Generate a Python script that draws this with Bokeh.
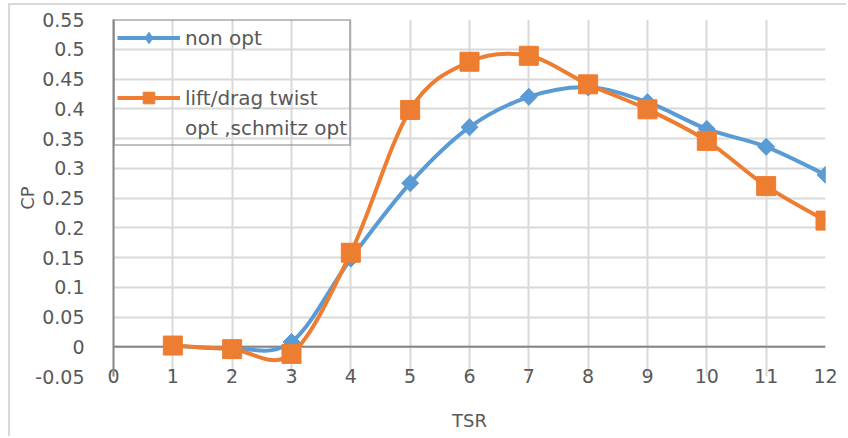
import numpy as np
from bokeh.plotting import figure
from bokeh.models import (Legend, LegendItem, FixedTicker, NumeralTickFormatter,
                          Span, Range1d, ColumnDataSource)
from bokeh.embed import file_html
from bokeh.resources import INLINE

# ---- data ----
tsr = [1, 2, 3, 4, 5, 6, 7, 8, 9, 10, 11, 12]
cp_non_opt = [0.002, -0.003, 0.008, 0.148, 0.275, 0.369, 0.420, 0.436, 0.411, 0.366, 0.336, 0.289]
cp_opt = [0.002, -0.004, -0.012, 0.158, 0.398, 0.479, 0.489, 0.441, 0.399, 0.346, 0.270, 0.212]
x_ticks = [0, 1, 2, 3, 4, 5, 6, 7, 8, 9, 10, 11, 12]
y_ticks = [-0.05, 0.0, 0.05, 0.1, 0.15, 0.2, 0.25, 0.3, 0.35, 0.4, 0.45, 0.5, 0.55]
series_names = ["non opt", "lift/drag twist", "opt ,schmitz opt"]

BLUE = "#5b9bd5"
ORANGE = "#ed7d31"
TEXT = "#595959"
GRID = "#d9d9d9"
AXIS = "#868686"
FONT = "DejaVu Sans"


def smooth_segments(xs, ys):
    """Cubic Bezier segments (Catmull-Rom style) through the data points."""
    x = np.asarray(xs, float)
    y = np.asarray(ys, float)
    n = len(x)
    xp = np.concatenate([[x[0]], x, [x[-1]]])
    yp = np.concatenate([[y[0]], y, [y[-1]]])
    d = dict(x0=[], y0=[], x1=[], y1=[], cx0=[], cy0=[], cx1=[], cy1=[])
    for i in range(n - 1):
        j = i + 1
        d["x0"].append(x[i]); d["y0"].append(y[i])
        d["x1"].append(x[i + 1]); d["y1"].append(y[i + 1])
        d["cx0"].append(x[i] + (xp[j + 1] - xp[j - 1]) / 6)
        d["cy0"].append(y[i] + (yp[j + 1] - yp[j - 1]) / 6)
        d["cx1"].append(x[i + 1] - (xp[j + 2] - xp[j]) / 6)
        d["cy1"].append(y[i + 1] - (yp[j + 2] - yp[j]) / 6)
    return ColumnDataSource(d)


p = figure(width=838, height=433, output_backend="svg", toolbar_location=None,
           x_range=Range1d(0, 12), y_range=Range1d(-0.05, 0.55),
           min_border_left=103, min_border_right=23, min_border_top=14,
           min_border_bottom=62, background_fill_color="white",
           border_fill_color="white", outline_line_color=None)
p.margin = (3, 0, 0, 8)
p.styles = {"border-top": "2px solid #d9d9d9", "border-left": "2px solid #d9d9d9"}

# grid
p.xgrid.ticker = FixedTicker(ticks=x_ticks)
p.ygrid.ticker = FixedTicker(ticks=y_ticks)
for g in (p.xgrid, p.ygrid):
    g.grid_line_color = GRID
    g.grid_line_width = 2

# y axis
p.yaxis.ticker = FixedTicker(ticks=y_ticks)
p.yaxis.formatter = NumeralTickFormatter(format="0.[00]")
p.yaxis.axis_line_color = AXIS
p.yaxis.axis_line_width = 2
p.yaxis.major_tick_line_color = None
p.yaxis.minor_tick_line_color = None
p.yaxis.major_label_standoff = 23
p.yaxis.axis_label = "CP"
p.yaxis.axis_label_standoff = -6

# x axis
p.xaxis.ticker = FixedTicker(ticks=x_ticks)
p.xaxis.axis_line_color = None
p.xaxis.major_tick_line_color = None
p.xaxis.minor_tick_line_color = None
p.xaxis.major_label_standoff = -14
p.xaxis.axis_label = "TSR"
p.xaxis.axis_label_standoff = 24

for ax in (p.xaxis, p.yaxis):
    ax.major_label_text_font = FONT
    ax.major_label_text_font_size = "19px"
    ax.major_label_text_color = TEXT
    ax.axis_label_text_font = FONT
    ax.axis_label_text_font_size = "18px"
    ax.axis_label_text_font_style = "normal"
    ax.axis_label_text_color = TEXT

# dark zero line
p.add_layout(Span(location=0, dimension="width", line_color=AXIS,
                  line_width=2, level="underlay"))

# series
blue_line = p.bezier(x0="x0", y0="y0", x1="x1", y1="y1", cx0="cx0", cy0="cy0",
                     cx1="cx1", cy1="cy1", source=smooth_segments(tsr, cp_non_opt),
                     line_color=BLUE, line_width=4)
# diamond markers (the narrow one is fully covered by the rotated square; it gives the legend key)
blue_key = p.scatter(tsr, cp_non_opt, marker="diamond", size=16,
                     fill_color=BLUE, line_color=BLUE)
blue_pts = p.scatter(tsr, cp_non_opt, marker="square", angle=np.pi / 4, size=12,
                     fill_color=BLUE, line_color=BLUE)
orange_line = p.bezier(x0="x0", y0="y0", x1="x1", y1="y1", cx0="cx0", cy0="cy0",
                       cx1="cx1", cy1="cy1", source=smooth_segments(tsr, cp_opt),
                       line_color=ORANGE, line_width=4)
orange_pts = p.scatter(tsr, cp_opt, marker="square", size=19,
                       fill_color=ORANGE, line_color=ORANGE)

dummy = p.line(x=[], y=[], line_alpha=0)

legend = Legend(items=[
    LegendItem(label=series_names[0], renderers=[blue_line, blue_key]),
    LegendItem(label=" ", renderers=[dummy]),
    LegendItem(label=series_names[1], renderers=[orange_line, orange_pts]),
    LegendItem(label=series_names[2], renderers=[dummy]),
], location="top_left")
legend.margin = 0
legend.padding = 2
legend.spacing = 1
legend.glyph_height = 29
legend.glyph_width = 63
legend.label_height = 29
legend.label_standoff = 5
legend.border_line_color = "#7f7f7f"
legend.border_line_width = 2
legend.background_fill_alpha = 0
legend.label_text_font = FONT
legend.label_text_font_size = "20px"
legend.label_text_color = TEXT
p.add_layout(legend)

open("out.html", "w").write(file_html(p, INLINE))
